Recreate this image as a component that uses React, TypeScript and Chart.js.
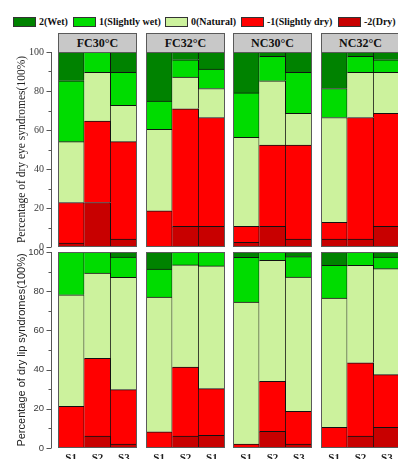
import React, { useEffect, useRef } from 'react';
import { Chart, registerables } from 'chart.js';
Chart.register(...registerables);

// ---------- data ----------
const GROUPS = ['FC30°C', 'FC32°C', 'NC30°C', 'NC32°C'];
const BAR_LABELS = [['S1', 'S2', 'S3'], ['S1', 'S2', 'S1'], ['S1', 'S2', 'S3'], ['S1', 'S2', 'S3']];
const LEVELS = ['-2(Dry)', '-1(Slightly dry)', '0(Natural)', '1(Slightly wet)', '2(Wet)'];
const LEGEND_ORDER = ['2(Wet)', '1(Slightly wet)', '0(Natural)', '-1(Slightly dry)', '-2(Dry)'];
const LEVEL_COLORS: Record<string, string> = {
  '2(Wet)': '#008200',
  '1(Slightly wet)': '#00dc00',
  '0(Natural)': '#ccf29d',
  '-1(Slightly dry)': '#ff0000',
  '-2(Dry)': '#c80000',
};
const Y_TITLES = ['Percentage of dry eye syndromes(100%)', 'Percentage of dry lip syndromes(100%)'];

// each array: FC30 S1,S2,S3 | FC32 S1,S2,S3 | NC30 S1,S2,S3 | NC32 S1,S2,S3
const eyeDry2 = [2, 22.8, 4, 0, 10.6, 10.6, 2.4, 10.6, 4.1, 4.1, 4.1, 10.6];
const eyeDry1 = [20.8, 41.8, 50, 18.6, 60.3, 55.8, 8.2, 41.7, 48.2, 8.5, 62.3, 57.9];
const eyeNatural = [31.2, 25, 18.7, 41.7, 16.3, 14.9, 45.6, 32.9, 16.2, 53.8, 23.2, 21.1];
const eyeWet1 = [31.2, 10.4, 16.9, 14.5, 8.8, 10, 22.8, 12.6, 21.1, 14.9, 8.2, 6.4];
const eyeWet2 = [14.8, 0, 10.4, 25.2, 4, 8.7, 21, 2.2, 10.4, 18.7, 2.2, 4];

const lipDry2 = [0, 6.1, 2, 0, 6.1, 6.5, 0, 8.5, 2, 0, 6.1, 10.5];
const lipDry1 = [21.3, 39.6, 27.8, 8.3, 35.2, 23.8, 2, 25.5, 16.7, 10.5, 37.4, 26.9];
const lipNatural = [56.9, 43.6, 57.3, 68.7, 52.1, 62.6, 72.5, 61.7, 68.5, 66, 49.7, 54.1];
const lipWet1 = [21.8, 10.7, 10.3, 14.3, 6.6, 7.1, 22.8, 4.3, 10.4, 16.7, 6.8, 5.9];
const lipWet2 = [0, 0, 2.6, 8.7, 0, 0, 2.7, 0, 2.4, 6.8, 0, 2.6];

const ROWS = [
  [eyeDry2, eyeDry1, eyeNatural, eyeWet1, eyeWet2],
  [lipDry2, lipDry1, lipNatural, lipWet1, lipWet2],
];
const Y_TICKS_MAX = 100;

// ---------- layout ----------
const PANEL_X = [58, 146, 233, 321];
const PANEL_W = 79;
const Y_AXIS_W = 58;
const ROW_TOP = [52, 252];
const ROW_H = [195, 196];
const PAD = 8;
const XAXIS_H = 20;

const framePlugin = {
  id: 'panelFrame',
  afterDatasetsDraw(chart: any) {
    const { ctx, chartArea: a } = chart;
    ctx.save();
    ctx.strokeStyle = '#5a5a5a';
    ctx.lineWidth = 1;
    ctx.strokeRect(Math.round(a.left) + 0.5, Math.round(a.top) + 0.5, Math.round(a.right - a.left) - 1, Math.round(a.bottom - a.top) - 1);
    ctx.restore();
  },
};

const yAxisLinePlugin = {
  id: 'yAxisLine',
  afterDraw(chart: any) {
    const y = chart.scales.y;
    if (!y || !chart.options.scales.y.display) return;
    const { ctx } = chart;
    const x0 = Math.round(chart.chartArea.left) - 6.5;
    ctx.save();
    ctx.strokeStyle = '#555';
    ctx.lineWidth = 1;
    ctx.beginPath();
    ctx.moveTo(x0, y.getPixelForValue(0));
    ctx.lineTo(x0, y.getPixelForValue(Y_TICKS_MAX));
    for (let v = 0; v <= Y_TICKS_MAX; v += 10) {
      const len = v % 20 === 0 ? 5 : 3;
      const py = Math.round(y.getPixelForValue(v)) + 0.5;
      ctx.moveTo(x0 - len, py);
      ctx.lineTo(x0, py);
    }
    ctx.stroke();
    ctx.restore();
  },
};

function Panel({ row, g }: { row: number; g: number }) {
  const ref = useRef<HTMLCanvasElement>(null);
  const isLeft = g === 0;
  const isBottom = row === 1;
  const left = isLeft ? 0 : PANEL_X[g];
  const width = isLeft ? PANEL_X[0] + PANEL_W : PANEL_W;
  const top = ROW_TOP[row] - PAD;
  const height = PAD + ROW_H[row] + (isBottom ? XAXIS_H : PAD);

  useEffect(() => {
    const series = ROWS[row];
    const tickFont = row === 0
      ? { family: 'Liberation Serif', size: 10 }
      : { family: 'Liberation Sans', size: 9.5 };
    const titleFont = row === 0
      ? { family: 'Liberation Serif', size: 11.5 }
      : { family: 'Liberation Sans', size: 11 };
    const chart = new Chart(ref.current as HTMLCanvasElement, {
      type: 'bar',
      data: {
        labels: BAR_LABELS[g],
        datasets: LEVELS.map((lv, i) => ({
          label: lv,
          data: series[i].slice(g * 3, g * 3 + 3).map((v) => (v === 0 ? null : v)),
          backgroundColor: LEVEL_COLORS[lv],
          borderColor: '#111',
          borderWidth: { top: 1, right: 1, bottom: 0, left: 0 },
          borderSkipped: false,
          barPercentage: 1,
          categoryPercentage: 1,
        })),
      },
      options: {
        animation: false,
        responsive: false,
        devicePixelRatio: 1,
        layout: { padding: { top: PAD, bottom: isBottom ? 0 : PAD, left: 0, right: 0 } },
        plugins: { legend: { display: false }, tooltip: { enabled: false } },
        scales: {
          x: {
            stacked: true,
            display: isBottom,
            grid: { display: false, drawTicks: false },
            border: { display: false },
            ticks: {
              font: { family: 'Liberation Serif', size: 11, weight: 'bold' },
              color: '#222',
              padding: 4,
              maxRotation: 0,
            },
            afterFit: (s: any) => { if (isBottom) s.height = XAXIS_H; },
          },
          y: {
            stacked: true,
            min: 0,
            max: Y_TICKS_MAX,
            display: isLeft,
            grid: { display: false, drawTicks: false },
            border: { display: false },
            ticks: { stepSize: 20, padding: 14, font: tickFont, color: '#3a3a3a' },
            title: {
              display: true,
              text: Y_TITLES[row],
              font: titleFont,
              color: '#222',
              padding: { top: 15, bottom: 0 },
            },
            afterFit: (s: any) => { if (isLeft) { s.width = Y_AXIS_W; s.paddingTop = 0; s.paddingBottom = 0; } },
          },
        },
      } as any,
      plugins: [framePlugin, yAxisLinePlugin],
    });
    return () => chart.destroy();
  }, []);

  return (
    <div style={{ position: 'absolute', left, top, width, height }}>
      <canvas ref={ref} width={width} height={height} style={{ display: 'block' }} />
    </div>
  );
}

export default function App() {
  const legendX = [13, 73, 165, 241, 338];
  return (
    <div style={{ position: 'fixed', left: 0, top: 0, width: 398, height: 459, overflow: 'hidden', background: '#fff' }}>
      {LEGEND_ORDER.map((lv, i) => (
        <React.Fragment key={lv}>
          <div style={{ position: 'absolute', left: legendX[i], top: 17, width: 23, height: 10, boxSizing: 'border-box', border: '1px solid #333', background: LEVEL_COLORS[lv] }} />
          <div style={{ position: 'absolute', left: legendX[i] + 26, top: 15, height: 14, lineHeight: '14px', whiteSpace: 'nowrap', fontFamily: 'Liberation Serif', fontWeight: 'bold', fontSize: 10, color: '#111' }}>{lv}</div>
        </React.Fragment>
      ))}
      {GROUPS.map((gname, g) => (
        <div key={gname} style={{ position: 'absolute', left: PANEL_X[g], top: 33, width: PANEL_W, height: 20, boxSizing: 'border-box', border: '1px solid #5a5a5a', background: '#c8c8c8', textAlign: 'center', lineHeight: '18px', fontFamily: 'Liberation Serif', fontWeight: 'bold', fontSize: 12, color: '#111' }}>{gname}</div>
      ))}
      {[0, 1].map((row) => GROUPS.map((_, g) => <Panel key={row + '-' + g} row={row} g={g} />))}
    </div>
  );
}
